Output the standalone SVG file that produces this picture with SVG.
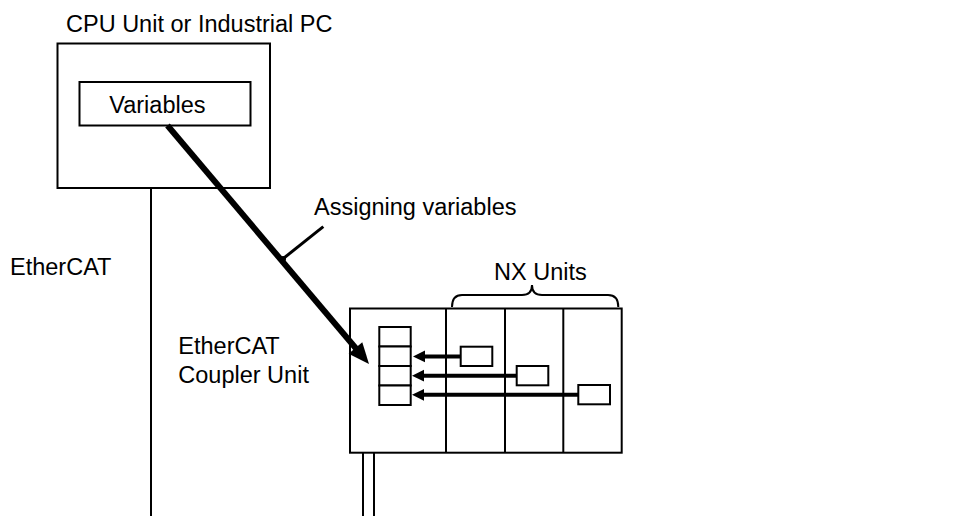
<svg xmlns="http://www.w3.org/2000/svg" width="974" height="516" viewBox="0 0 974 516">
<style>
text{font-family:"Liberation Sans",Arial,sans-serif;font-size:23.5px;fill:#000}
.box{fill:#fff;stroke:#000;stroke-width:2}
.ln{stroke:#000;fill:none}
</style>
<defs>
<marker id="sa" markerWidth="3" markerHeight="3" refX="0.2" refY="1.5" orient="auto" markerUnits="strokeWidth">
<path d="M0,0 L3,1.5 L0,3 Z" fill="#000"/>
</marker>
</defs>
<rect width="974" height="516" fill="#fff"/>
<g id="cpu">
<rect class="box" x="57.5" y="43.5" width="212.5" height="144.5"/>
<text x="66" y="31.7">CPU Unit or Industrial PC</text>
</g>
<g id="variables">
<rect class="box" x="79.5" y="82" width="171" height="43.5"/>
<text x="109.3" y="113">Variables</text>
</g>
<g id="coupler">
<rect class="box" x="350" y="308.5" width="271.7" height="144.2"/>
<line class="ln" stroke-width="2" x1="446" y1="308.5" x2="446" y2="452.7"/>
<line class="ln" stroke-width="2" x1="505" y1="308.5" x2="505" y2="452.7"/>
<line class="ln" stroke-width="2" x1="563.3" y1="308.5" x2="563.3" y2="452.7"/>
<rect class="box" x="379.3" y="327" width="31.4" height="19.5"/>
<rect class="box" x="379.3" y="346.5" width="31.4" height="19.5"/>
<rect class="box" x="379.3" y="366" width="31.4" height="19.5"/>
<rect class="box" x="379.3" y="385.5" width="31.4" height="19.5"/>
<rect class="box" x="460.7" y="346.7" width="31.6" height="19.3"/>
<rect class="box" x="516.7" y="366" width="31.6" height="19.3"/>
<rect class="box" x="578.3" y="385" width="31.7" height="19.3"/>
<text x="178.3" y="354">EtherCAT</text>
<text x="178.3" y="382.5">Coupler Unit</text>
</g>
<g id="nx-units">
<path class="ln" stroke-width="2" d="M452,307 Q452,295 462,295 L522,295 Q532,295 532,285 Q532,295 542,295 L608,295 Q618.3,295 618.3,307"/>
<text x="494" y="280.3">NX Units</text>
</g>
<g id="ethercat-label">
<text x="10" y="275">EtherCAT</text>
</g>
<g id="assign-label">
<text x="314" y="215">Assigning variables</text>
</g>
<g id="connectors">
<line class="ln" stroke-width="2" x1="151" y1="188" x2="151" y2="516"/>
<line class="ln" stroke-width="2" x1="363" y1="452.7" x2="363" y2="516"/>
<line class="ln" stroke-width="2" x1="374" y1="452.7" x2="374" y2="516"/>
<line class="ln" stroke-width="6" x1="167.5" y1="125.5" x2="356" y2="348.5"/>
<path d="M369,364 L348.6,353.8 L362.3,342.2 Z" fill="#000"/>
<line class="ln" stroke-width="3" x1="283.3" y1="258.5" x2="323.3" y2="226.7"/>
<circle cx="283" cy="259" r="3" fill="#000"/>
<line class="ln" stroke-width="4" x1="460.7" y1="356.4" x2="425" y2="356.4"/>
<path d="M413,356.4 L425,350.5 L425,362.3 Z" fill="#000"/>
<line class="ln" stroke-width="4" x1="516.7" y1="375.7" x2="424" y2="375.7"/>
<path d="M412,375.7 L424,369.8 L424,381.6 Z" fill="#000"/>
<line class="ln" stroke-width="4" x1="578.3" y1="394.8" x2="424" y2="394.8"/>
<path d="M412,394.8 L424,388.9 L424,400.7 Z" fill="#000"/>
</g>
</svg>
